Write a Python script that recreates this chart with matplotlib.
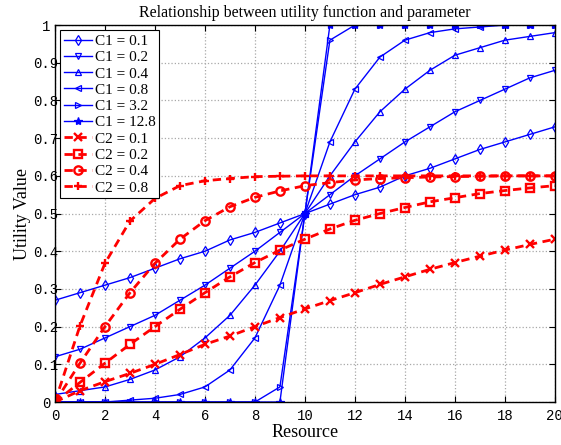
import matplotlib
matplotlib.use("Agg")
import matplotlib.pyplot as plt

resource = list(range(21))

c1_labels = ["C1 = 0.1", "C1 = 0.2", "C1 = 0.4", "C1 = 0.8", "C1 = 3.2", "C1 = 12.8"]
c1_01 = [0.27, 0.29, 0.31, 0.33, 0.355, 0.38, 0.40, 0.43, 0.45, 0.475, 0.50,
         0.525, 0.55, 0.57, 0.60, 0.62, 0.645, 0.67, 0.69, 0.71, 0.73]
c1_02 = [0.12, 0.14, 0.17, 0.20, 0.23, 0.27, 0.31, 0.355, 0.40, 0.45, 0.50,
         0.55, 0.60, 0.645, 0.69, 0.73, 0.77, 0.80, 0.83, 0.86, 0.88]
c1_04 = [0.02, 0.03, 0.04, 0.06, 0.085, 0.12, 0.17, 0.23, 0.31, 0.40, 0.50,
         0.60, 0.69, 0.77, 0.83, 0.88, 0.92, 0.94, 0.96, 0.97, 0.98]
c1_08 = [0.0, 0.0, 0.0, 0.005, 0.01, 0.02, 0.04, 0.085, 0.17, 0.31, 0.50,
         0.69, 0.83, 0.915, 0.96, 0.98, 0.99, 0.995, 1.0, 1.0, 1.0]
c1_32 = [0.0, 0.0, 0.0, 0.0, 0.0, 0.0, 0.0, 0.0, 0.0, 0.04, 0.50,
         0.96, 1.0, 1.0, 1.0, 1.0, 1.0, 1.0, 1.0, 1.0, 1.0]
c1_128 = [0.0, 0.0, 0.0, 0.0, 0.0, 0.0, 0.0, 0.0, 0.0, 0.0, 0.50,
          1.0, 1.0, 1.0, 1.0, 1.0, 1.0, 1.0, 1.0, 1.0, 1.0]

c2_labels = ["C2 = 0.1", "C2 = 0.2", "C2 = 0.4", "C2 = 0.8"]
c2_01 = [0.0, 0.03, 0.054, 0.076, 0.10, 0.126, 0.153, 0.175, 0.20, 0.224, 0.247,
         0.269, 0.29, 0.312, 0.332, 0.352, 0.37, 0.387, 0.403, 0.418, 0.432]
c2_02 = [0.0, 0.052, 0.103, 0.153, 0.20, 0.246, 0.29, 0.332, 0.37, 0.403, 0.432,
         0.459, 0.482, 0.50, 0.516, 0.531, 0.542, 0.553, 0.561, 0.568, 0.574]
c2_04 = [0.0, 0.103, 0.20, 0.29, 0.368, 0.432, 0.481, 0.518, 0.543, 0.56, 0.574,
         0.582, 0.589, 0.593, 0.595, 0.597, 0.598, 0.599, 0.6, 0.6, 0.6]
c2_08 = [0.0, 0.202, 0.368, 0.48, 0.54, 0.574, 0.587, 0.593, 0.598, 0.599, 0.6,
         0.6, 0.6, 0.6, 0.6, 0.6, 0.6, 0.6, 0.6, 0.6, 0.6]

c1_series = [c1_01, c1_02, c1_04, c1_08, c1_32, c1_128]
c1_markers = ["d", "v", "^", "<", ">", "*"]
c2_series = [c2_01, c2_02, c2_04, c2_08]
c2_markers = ["x", "s", "o", "+"]

SERIF = "Liberation Serif"
MONO = "Liberation Mono"

fig = plt.figure(figsize=(5.61, 4.45), dpi=100)
ax = fig.add_axes([0.098, 0.0966, 0.891, 0.847])

for values, marker, label in zip(c1_series, c1_markers, c1_labels):
    filled = marker == "*"
    ax.plot(resource, values, color="blue", linewidth=1.0, marker=marker,
            markersize=6 if filled else 5,
            markerfacecolor="blue" if filled else "none",
            markeredgecolor="blue", markeredgewidth=0.9, label=label)

for values, marker, label in zip(c2_series, c2_markers, c2_labels):
    ax.plot(resource, values, color="red", linewidth=2.0, linestyle="--",
            dashes=(3, 2), marker=marker, markersize=6,
            markerfacecolor="none", markeredgecolor="red",
            markeredgewidth=1.7, label=label)

ax.set_xlim(0, 20)
ax.set_ylim(0, 1)
ax.set_xticks(range(0, 21, 2))
ax.set_yticks([i / 10 for i in range(11)])
ax.set_yticklabels(["0", "0.1", "0.2", "0.3", "0.4", "0.5",
                    "0.6", "0.7", "0.8", "0.9", "1"])

ax.grid(True, linestyle=":", color="#a8a8a8", linewidth=0.9)
ax.tick_params(direction="in", length=4, width=0.8, top=True, right=True,
               labelsize=10)
ax.tick_params(axis="x", pad=5)
ax.tick_params(axis="y", pad=6.5)
for lab in ax.get_xticklabels() + ax.get_yticklabels():
    lab.set_fontfamily(MONO)
for lab in ax.get_yticklabels():
    lab.set_horizontalalignment("center")
for spine in ax.spines.values():
    spine.set_linewidth(1.0)
    spine.set_color("black")

ax.set_title("Relationship between utility function and parameter",
             fontfamily=SERIF, fontsize=11.5, pad=6)
ax.set_xlabel("Resource", fontfamily=SERIF, fontsize=13, labelpad=1)
ax.set_ylabel("Utility Value", fontfamily=SERIF, fontsize=13, labelpad=2)

leg = ax.legend(loc="upper left", prop={"family": SERIF, "size": 11},
                handlelength=1.8, handletextpad=0.2, labelspacing=0.17,
                borderpad=0.25, borderaxespad=0.35, fancybox=False,
                framealpha=1, edgecolor="black")
leg.get_frame().set_linewidth(0.8)

fig.savefig("out.png", dpi=100)
